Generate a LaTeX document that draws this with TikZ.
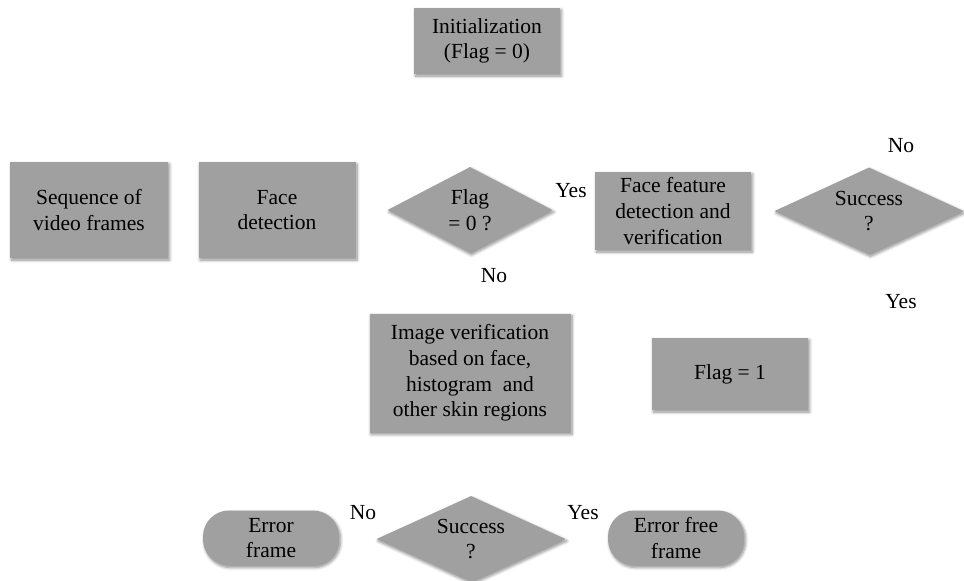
\documentclass[tikz,border=0pt]{standalone}
\usepackage{fontspec}
\setmainfont{Liberation Serif}
\newfontfamily\tnr{Liberation Serif}
\usetikzlibrary{shapes.geometric,shadows.blur}
\definecolor{boxgray}{RGB}{160,160,160}
\tikzset{
  base/.style={fill=boxgray, draw=none, align=center, inner sep=0pt,
    font=\tnr\fontsize{21.5}{25.6}\selectfont,
    blur shadow={shadow xshift=1.5pt, shadow yshift=-2pt, shadow blur steps=6, shadow opacity=45, shadow blur radius=3pt}},
  procbox/.style={base, rectangle},
  termbox/.style={base, rectangle, rounded corners=26pt},
  decbox/.style={base, diamond, aspect=2},
  decytext/.style={align=center, font=\tnr\fontsize{21.5}{25.6}\selectfont, inner sep=0pt},
  lbl/.style={font=\tnr\fontsize{21.5}{25.6}\selectfont, inner sep=0pt}
}
\begin{document}
\begin{tikzpicture}[x=1pt,y=-1pt]
\useasboundingbox (0,0) rectangle (964,581);
\node[procbox, minimum width=146pt, minimum height=66pt] (init) at (487,41) {Initialization\\(Flag = 0)};
\node[procbox, minimum width=158pt, minimum height=96pt] (seq) at (89,210) {Sequence of\\video frames};
\node[procbox, minimum width=157pt, minimum height=96pt] (face) at (277,210) {Face\\detection};
\node[decbox, minimum width=165pt, minimum height=86pt] (flag) at (470,210) {};
\node[decytext] (flagt) at (flag) {Flag\\= 0 ?};
\node[procbox, minimum width=156pt, minimum height=78pt] (feat) at (673,211) {Face feature\\detection and\\verification};
\node[decbox, minimum width=189pt, minimum height=87pt] (succ1) at (869,211) {};
\node[decytext] (succ1t) at (succ1) {Success\\?};
\node[procbox, minimum width=201pt, minimum height=119pt] (imgv) at (470,373) {Image verification\\based on face,\\histogram~~and\\other skin regions};
\node[procbox, minimum width=156pt, minimum height=72pt] (flag1) at (730,374) {Flag = 1};
\node[termbox, minimum width=136pt, minimum height=55pt] (err) at (271,538) {Error\\frame};
\node[decbox, minimum width=189pt, minimum height=86pt] (succ2) at (471,539) {};
\node[decytext] (succ2t) at (succ2) {Success\\?};
\node[termbox, minimum width=136pt, minimum height=55pt] (errfree) at (676,538) {Error free\\frame};
\node[lbl] (yes1) at (571,191) {Yes};
\node[lbl] (no1) at (494,276) {No};
\node[lbl] (no2) at (901,146) {No};
\node[lbl] (yes2) at (901,302) {Yes};
\node[lbl] (no3) at (363,513) {No};
\node[lbl] (yes3) at (583,513) {Yes};
\end{tikzpicture}
\end{document}
